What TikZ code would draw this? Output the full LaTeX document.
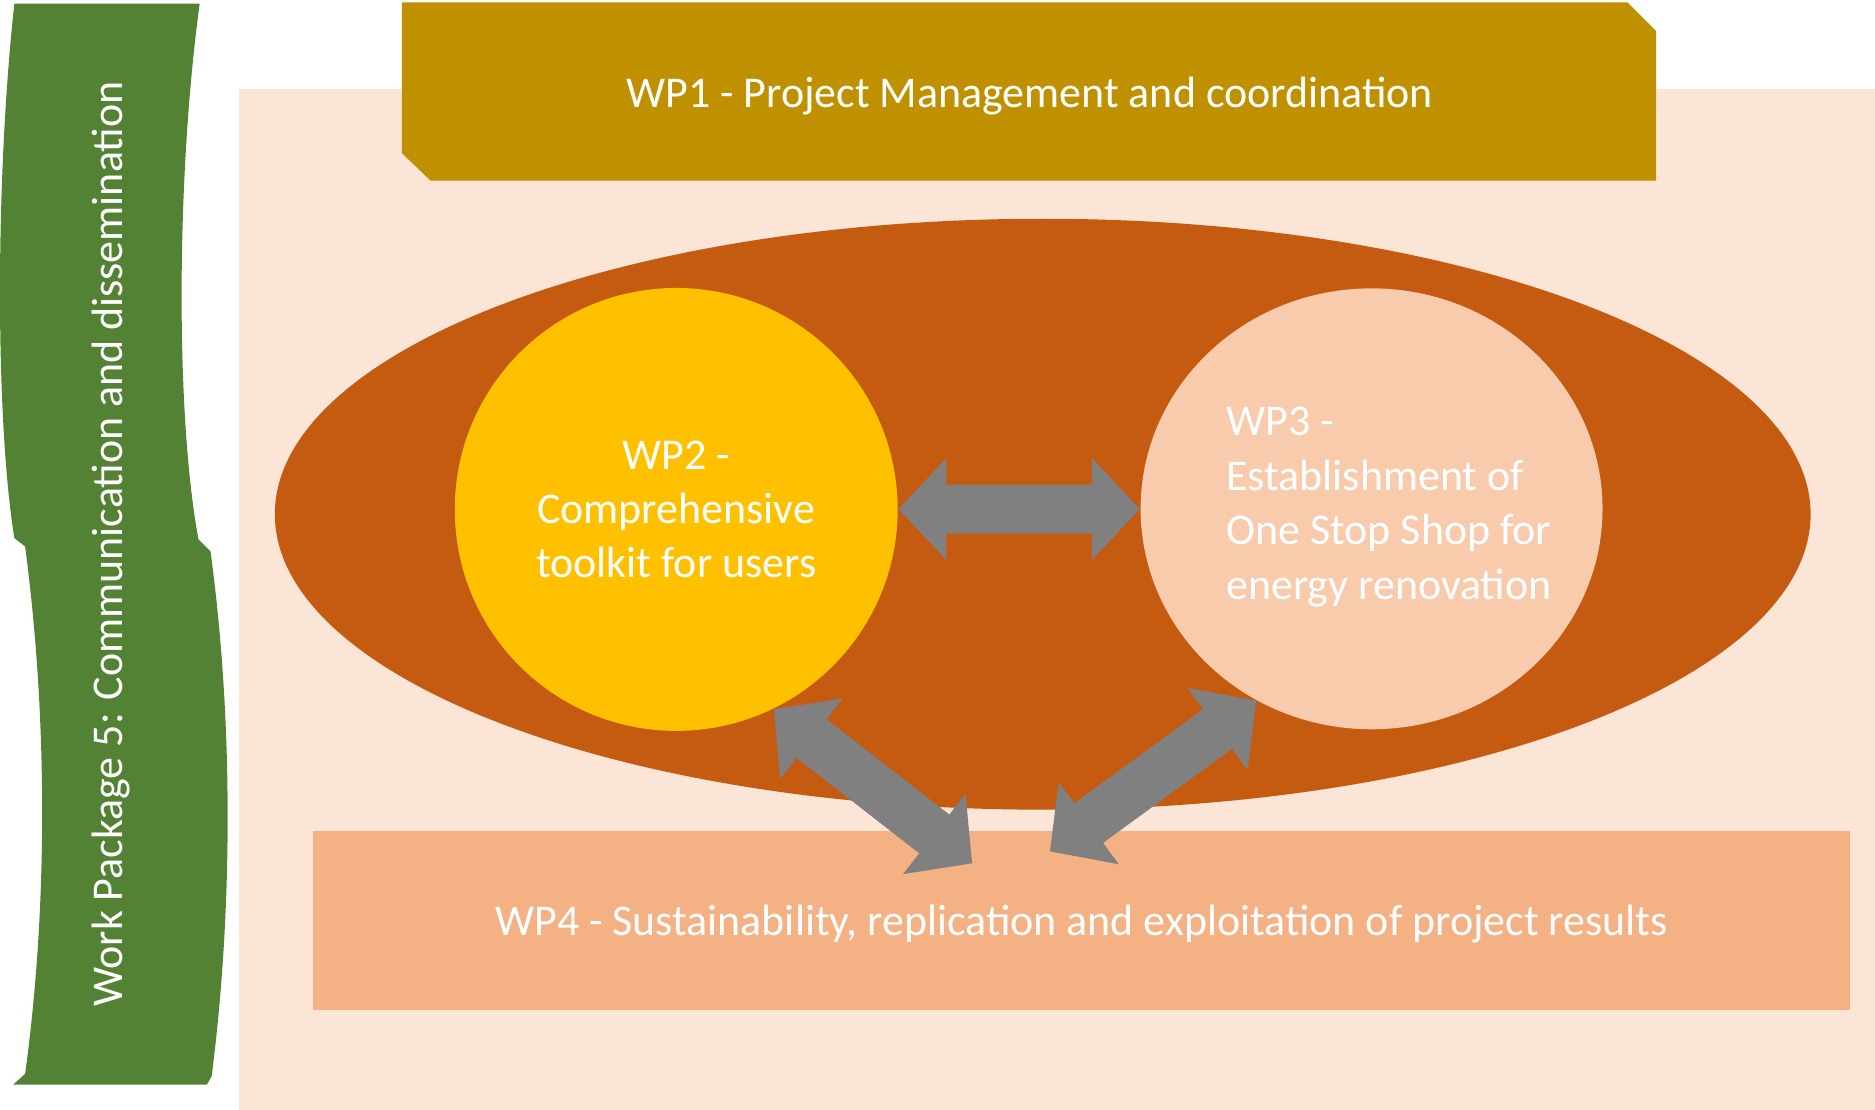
\documentclass[tikz,border=0pt]{standalone}
\usepackage{fontspec}
\setmainfont{Carlito}
\usepackage{tikz}
\usetikzlibrary{arrows.meta,shapes.geometric}
\definecolor{wpbg}{HTML}{FBE5D6}
\definecolor{wpgold}{HTML}{BF9000}
\definecolor{wpcore}{HTML}{C55A11}
\definecolor{wpyellow}{HTML}{FFC000}
\definecolor{wplight}{HTML}{F8CBAD}
\definecolor{wpsalmon}{HTML}{F4B183}
\definecolor{wpgreen}{HTML}{548235}
\definecolor{wpgray}{HTML}{808080}

\begin{document}
\begin{tikzpicture}[x=0.1196mm,y=-0.1196mm,
	wptext/.style={text=white,font=\fontsize{12.5}{15.5}\selectfont},
	wparrow/.style={draw=wpgray,line width=4.9mm,
		{Triangle[length=4.8mm,width=9.9mm]}-{Triangle[length=4.8mm,width=9.9mm]}}]
\useasboundingbox (0,0) rectangle (1568,928);
\fill [wpbg] (200,74) rectangle (1568,928);
% green ribbon on the left
\fill [wpgreen] (12,3) -- (167,3) .. controls (147,150) and (147,350) .. (166,451)
	-- (176,461) .. controls (195,600) and (195,760) .. (177,900) -- (173,907)
	-- (11,907) -- (21,898) .. controls (40,760) and (40,600) .. (21,457)
	-- (12,450) .. controls (-4,350) and (-4,150) .. (12,3) -- cycle;
\node [wptext,rotate=90] (wp5) at (93,455) {Work Package 5: Communication and dissemination};
% top banner
\fill [wpgold] (336,2) -- (1361,2) -- (1385,26) -- (1385,151) -- (360,151) -- (336,128) -- cycle;
\node [wptext] (wp1) at (861,80) {WP1 - Project Management and coordination};
% core
\node [ellipse,fill=wpcore,minimum width=153.6mm,minimum height=59.1mm,inner sep=0pt] (core) at (872,430) {};
\node [circle,fill=wpyellow,minimum size=44.3mm,inner sep=0pt,wptext,align=center] (wp2) at (565.5,426)
	{WP2 -\\Comprehensive\\toolkit for users};
\node [ellipse,fill=wplight,minimum width=46.2mm,minimum height=44.1mm,inner sep=0pt] (wp3) at (1147,425.5) {};
\node [wptext,align=left,anchor=west,inner sep=0pt] (wp3txt) at (1025,424)
	{WP3 -\\Establishment of\\One Stop Shop for\\energy renovation};
\node [fill=wpsalmon,minimum width=153.7mm,minimum height=17.9mm,inner sep=0pt,wptext] (wp4) at (904.5,770)
	{\raisebox{-1.5mm}[0pt][0pt]{WP4 - Sustainability, replication and exploitation of project results}};
\coordinate (wp4l) at (813,722);
\coordinate (wp4r) at (878,712);
% arrows
\draw [wparrow] (wp2) -- (wp3);
\draw [wparrow] (wp2.-64) -- (wp4l);
\draw [wparrow] (wp3.-121) -- (wp4r);
\end{tikzpicture}
\end{document}
